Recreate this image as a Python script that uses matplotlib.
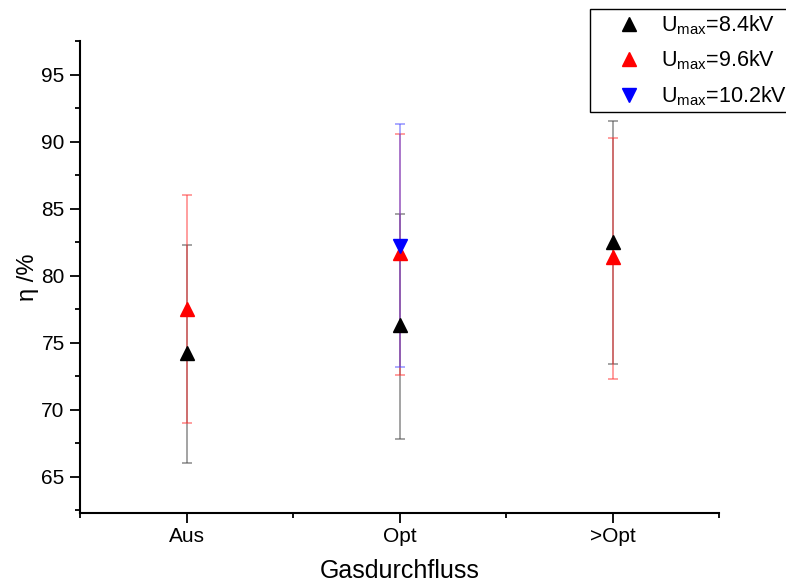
import matplotlib
matplotlib.use('Agg')
import matplotlib.pyplot as plt
from matplotlib.ticker import MultipleLocator, FixedLocator

plt.rcParams['font.family'] = ['Liberation Sans', 'DejaVu Sans']
plt.rcParams['mathtext.fontset'] = 'custom'
plt.rcParams['mathtext.rm'] = 'Liberation Sans'
plt.rcParams['mathtext.it'] = 'Liberation Sans'

# Daten
categories = ['Aus', 'Opt', '>Opt']
x_pos = [1, 2, 3]

u84_mean = [74.2, 76.3, 82.5]
u84_low = [66.0, 67.8, 73.4]
u84_high = [82.3, 84.6, 91.5]

u96_mean = [77.5, 81.7, 81.4]
u96_low = [69.0, 72.6, 72.3]
u96_high = [86.0, 90.6, 90.3]

u102_x = [2]
u102_mean = [82.2]
u102_low = [73.2]
u102_high = [91.3]

fig = plt.figure(figsize=(7.86, 5.87), dpi=100)
ax = fig.add_axes([80 / 786, 74 / 587, 639 / 786, 472 / 587])


def draw(ax, xs, mean, low, high, color, ecolor, marker, label):
    yerr = [[m - l for m, l in zip(mean, low)], [h - m for m, h in zip(mean, high)]]
    ax.errorbar(xs, mean, yerr=yerr, fmt='none', ecolor=ecolor, elinewidth=1.1,
                capsize=3.8, capthick=1.1, zorder=2)
    ax.plot(xs, mean, linestyle='none', marker=marker, color=color,
            markersize=10, label=label, zorder=3)


draw(ax, x_pos, u84_mean, u84_low, u84_high, 'black', (0.3, 0.3, 0.3, 0.65), '^',
     r'U$_{\mathrm{max}}$=8.4kV')
draw(ax, x_pos, u96_mean, u96_low, u96_high, 'red', (1, 0.2, 0.2, 0.6), '^',
     r'U$_{\mathrm{max}}$=9.6kV')
draw(ax, u102_x, u102_mean, u102_low, u102_high, 'blue', (0.3, 0.3, 1, 0.6), 'v',
     r'U$_{\mathrm{max}}$=10.2kV')

ax.set_xlim(0.5, 3.5)
ax.set_ylim(62.3, 97.5)
ax.xaxis.set_major_locator(FixedLocator(x_pos))
ax.set_xticklabels(categories)
ax.xaxis.set_minor_locator(FixedLocator([0.5, 1.5, 2.5, 3.5]))
ax.yaxis.set_major_locator(MultipleLocator(5))
ax.yaxis.set_minor_locator(MultipleLocator(2.5))
ax.tick_params(which='major', direction='out', length=7, width=1.3, labelsize=15, pad=4)
ax.tick_params(which='minor', direction='out', length=3.5, width=1.3)
ax.tick_params(axis='x', which='major', pad=3)

for side in ['top', 'right']:
    ax.spines[side].set_visible(False)
for side in ['left', 'bottom']:
    ax.spines[side].set_linewidth(1.5)

ax.set_xlabel('Gasdurchfluss', fontsize=18, labelpad=9.5)
ax.set_ylabel('η /%', fontsize=17, labelpad=1.5)

leg = fig.legend(loc='upper left', bbox_to_anchor=(590 / 786, 1 - 9 / 587),
                 borderaxespad=0, fontsize=15.5, frameon=True, fancybox=False,
                 framealpha=1, edgecolor='black', handletextpad=-0.15,
                 borderpad=0.2, labelspacing=0.55, handlelength=3.25)
leg.get_frame().set_linewidth(1.0)

fig.savefig('out.png', dpi=100)
